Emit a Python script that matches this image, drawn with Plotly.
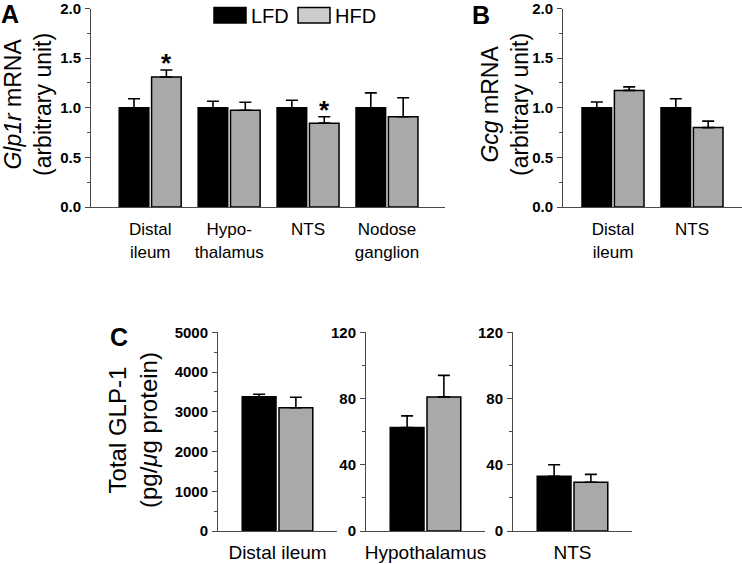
import plotly.graph_objects as go

OFF = 0
W, H = 742, 564
FONT = "Liberation Sans, Arial, Helvetica, sans-serif"

series = ["LFD", "HFD"]
bar_colors = ["#000000", "#a9a9a9"]
legend_colors = ["#000000", "#cccccc"]

# Panel A: Glp1r mRNA
a_cats = ["Distal<br>ileum", "Hypo-<br>thalamus", "NTS", "Nodose<br>ganglion"]
a_lfd = [1.0, 1.0, 1.0, 1.0]
a_lfd_sem = [0.09, 0.065, 0.075, 0.15]
a_hfd = [1.31, 0.975, 0.845, 0.91]
a_hfd_sem = [0.07, 0.08, 0.065, 0.19]
a_star = [True, False, True, False]

# Panel B: Gcg mRNA
b_cats = ["Distal<br>ileum", "NTS"]
b_lfd = [1.0, 1.0]
b_lfd_sem = [0.058, 0.09]
b_hfd = [1.175, 0.80]
b_hfd_sem = [0.035, 0.065]

# Panel C: Total GLP-1
c_cats = ["Distal ileum", "Hypothalamus", "NTS"]
c_lfd = [3380, 62.5, 33.0]
c_lfd_sem = [60, 7.0, 7.0]
c_hfd = [3100, 81.0, 29.4]
c_hfd_sem = [265, 13.0, 4.8]
c_ymax = [5000, 120, 120]
c_dtick = [1000, 40, 40]
c_minor = [500, 20, 20]

fig = go.Figure()

def px_x(p):
    return (p - OFF) / W

def px_y(p):
    return 1 - (p - OFF) / H

AXC = "#4a4a4a"

def add_bars(xa, ya, cats, vals_list, sems_list, width, gap):
    offsets = [-(width + gap / 2), gap / 2]
    for i, (vals, sems) in enumerate(zip(vals_list, sems_list)):
        fig.add_trace(go.Bar(
            x=cats, y=vals, name=series[i], showlegend=False,
            xaxis=xa, yaxis=ya,
            width=width, offset=offsets[i],
            marker=dict(color=bar_colors[i], line=dict(color="black", width=1.5)),
            error_y=dict(type="data", array=sems, arrayminus=[0] * len(sems),
                         symmetric=False, color="black", thickness=1.6, width=6),
        ))
    return offsets

# Panel A
wA, gA = 0.375, 0.035
offA = add_bars("x", "y", a_cats, [a_lfd, a_hfd], [a_lfd_sem, a_hfd_sem], wA, gA)
# Panel B
add_bars("x2", "y2", b_cats, [b_lfd, b_hfd], [b_lfd_sem, b_hfd_sem], wA, gA)
# Panel C
wC, gC = 0.284, 0.025
for k in range(3):
    n = k + 3
    add_bars(f"x{n}", f"y{n}", [c_cats[k]], [[c_lfd[k]], [c_hfd[k]]],
             [[c_lfd_sem[k]], [c_hfd_sem[k]]], wC, gC)

tickfont = dict(family=FONT, size=15, color="black", weight="bold")

def xaxis_cfg(dom, rng, standoff, anchor, size):
    return dict(domain=dom, range=rng, showline=True, linecolor=AXC, linewidth=1,
                ticks="", showgrid=False, zeroline=False,
                tickfont=dict(family=FONT, size=size, color="black"),
                ticklabelstandoff=standoff, fixedrange=True, automargin=False,
                ticklabeloverflow="allow", anchor=anchor)

def yaxis_cfg(dom, rng, dtick, minor, fmt, anchor):
    return dict(domain=dom, range=rng, showline=True, linecolor=AXC, linewidth=1,
                ticks="outside", ticklen=5, tickcolor=AXC, tickwidth=1,
                dtick=dtick, tick0=0, tickformat=fmt, showgrid=False, zeroline=False,
                tickfont=tickfont, ticklabelstandoff=1, anchor=anchor,
                ticklabeloverflow="allow",
                minor=dict(ticks="outside", ticklen=3, dtick=minor, tickcolor=AXC,
                           showgrid=False),
                fixedrange=True, automargin=False)

yA = [px_y(207), px_y(8.5)]
yC = [px_y(531), px_y(332.3)]

layout = dict(
    width=W, height=H, margin=dict(l=0, r=0, t=0, b=0, pad=0, autoexpand=False),
    paper_bgcolor="white", plot_bgcolor="white",
    barmode="overlay", showlegend=False,
    font=dict(family=FONT, color="black"),
    xaxis=xaxis_cfg([px_x(91), px_x(445)], [-0.75, 3.735], 7, "y", 17),
    yaxis=yaxis_cfg(yA, [0, 2], 0.5, 0.25, ".1f", "x"),
    xaxis2=xaxis_cfg([px_x(563), 1.0], [-0.633, 1.633], 7, "y2", 17),
    yaxis2=yaxis_cfg(yA, [0, 2], 0.5, 0.25, ".1f", "x2"),
)
c_dom = [(218, 337), (366, 485), (513, 632)]
for k in range(3):
    n = k + 3
    layout[f"xaxis{n}"] = xaxis_cfg([px_x(c_dom[k][0]), px_x(c_dom[k][1])], [-0.5, 0.5], 4, f"y{n}", 19)
    layout[f"yaxis{n}"] = yaxis_cfg(yC, [0, c_ymax[k]], c_dtick[k], c_minor[k], "d", f"x{n}")
fig.update_layout(**layout)

ann = []
# significance stars
for i, s in enumerate(a_star):
    if s:
        ann.append(dict(x=i + offA[1] + wA / 2, y=a_hfd[i] + a_hfd_sem[i], xref="x", yref="y",
                        text="*", showarrow=False, xanchor="center", yanchor="bottom", yshift=-10,
                        font=dict(family=FONT, size=26, color="black", weight="bold")))

def paper_text(text, xx, yy, font, angle=0, xanchor="center"):
    ann.append(dict(x=px_x(xx), y=px_y(yy), xref="paper", yref="paper", textangle=angle,
                    text=text, showarrow=False, font=font, align="center",
                    xanchor=xanchor, yanchor="middle"))

# y-axis titles
title_font = dict(family=FONT, size=23, color="black")
paper_text("<i>Glp1r</i> mRNA<br>(arbitrary unit)", 28, 105, title_font, -90)
paper_text("<i>Gcg</i> mRNA<br>(arbitrary unit)", 505, 105, title_font, -90)
paper_text("Total GLP-1<br>(pg/<i>μ</i>g protein)", 133, 430,
           dict(family=FONT, size=24, color="black"), -90)

# panel letters
letter_font = dict(family=FONT, size=25, color="black", weight="bold")
for t, xx, yy in [("A", 10, 14), ("B", 481, 15), ("C", 119, 337)]:
    paper_text(t, xx, yy, letter_font)

# legend
shapes = []
leg_boxes = [(214, 246), (298, 330)]
for i, name in enumerate(series):
    x0, x1 = leg_boxes[i]
    shapes.append(dict(type="rect", xref="paper", yref="paper",
                       x0=px_x(x0), x1=px_x(x1), y0=px_y(23), y1=px_y(7.5),
                       fillcolor=legend_colors[i], line=dict(color="black", width=1.5)))
    paper_text(name, x1 + 3, 15.5, dict(family=FONT, size=20, color="black"), 0, "left")

fig.update_layout(annotations=ann, shapes=shapes)
fig.write_html("out.html", config={"displayModeBar": False},
               post_script="document.body.style.margin='0';document.body.style.overflow='hidden';")
